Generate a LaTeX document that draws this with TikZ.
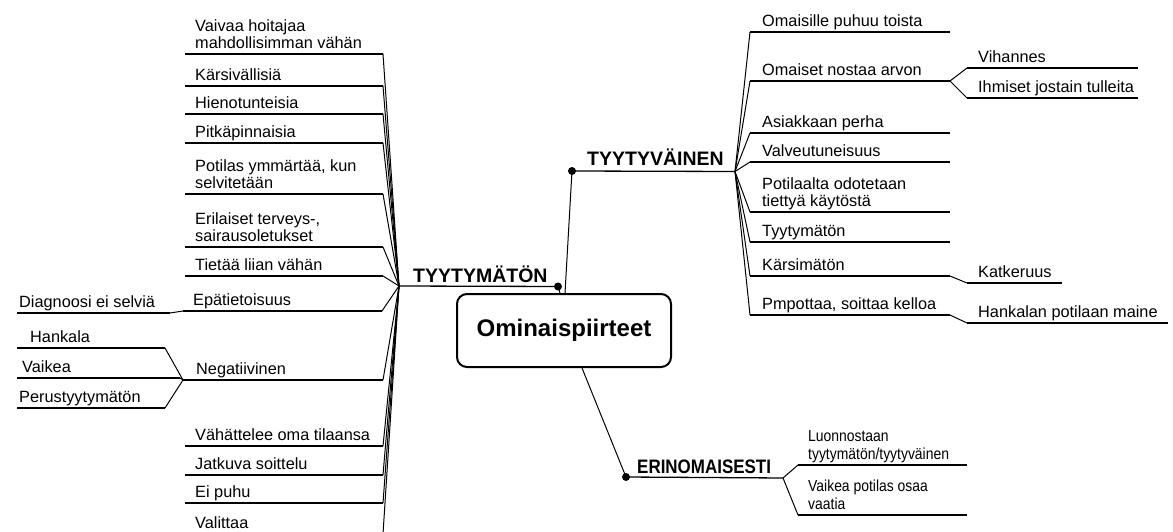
\documentclass[tikz,border=0pt]{standalone}
\usepackage{fontspec}
\setmainfont{Liberation Sans}
\newfontfamily\narrowsans[FakeStretch=0.87]{Liberation Sans}
% topic: underline from x-left to x-right at height y, text sitting on it
% #1 style, #2 name, #3 x-left, #4 x-right, #5 y, #6 text offset, #7 text
\newcommand\topic[7][txt]{%
  \coordinate (#2-l) at (#3,#5);
  \coordinate (#2-r) at (#4,#5);
  \draw[ul] (#2-l) -- (#2-r);
  \node[#1] (#2) at ({#3+#6},{#5-5}) {#7};
}
\begin{document}
\begin{tikzpicture}[x=1pt,y=-1pt,
  ul/.style={line width=1.3pt},
  link/.style={line width=1pt},
  txt/.style={anchor=south west, inner sep=0pt, text depth=0pt, align=left,
    font=\fontsize{16.3}{17.5}\selectfont},
  smalltxt/.style={txt, font=\narrowsans\fontsize{16}{18.5}\selectfont},
  head/.style={anchor=base west, inner sep=0pt, font=\fontsize{19.5}{20}\selectfont\bfseries},
  dot/.style={circle, fill, inner sep=0pt, minimum size=8pt},
  core/.style={draw, fill=white, line width=2pt, rounded corners=10pt,
    minimum width=214pt, minimum height=73pt,
    font=\fontsize{24}{26}\selectfont\bfseries}
]
\useasboundingbox (0,0) rectangle (1173,532);

% central topic
\node[core] (core) at (564,330.5) {Ominaispiirteet};

% main branches
\coordinate (hubL) at (399,286);
\coordinate (hubR) at (735,171.5);
\coordinate (hubE) at (783,478);
\node[dot] (dL) at (558,286.5) {};
\node[dot] (dR) at (572,171) {};
\node[dot] (dE) at (626,477) {};
\draw[ul] (hubL) -- (dL.center);
\draw[ul] (dR.center) -- (hubR);
\draw[ul] (dE.center) -- (hubE);
\node[head] (hL) at (413,282) {TYYTYMÄTÖN};
\node[head] (hR) at (587,165) {TYYTYVÄINEN};
\node[head, font=\narrowsans\fontsize{19.5}{20}\selectfont\bfseries] (hE) at (637,473) {ERINOMAISESTI};
\draw[link] (dL.center) -- ([xshift=-4pt]core.north);
\draw[link] (dR.center) -- ([xshift=1pt]core.north);
\draw[link] ([xshift=18pt]core.south) -- (dE.center);

% TYYTYMÄTÖN
\topic{L1}{185}{383}{54}{10}{Vaivaa hoitajaa\\mahdollisimman vähän}
\topic{L2}{185}{383}{86}{10}{Kärsivällisiä}
\topic{L3}{185}{383}{114}{10}{Hienotunteisia}
\topic{L4}{185}{383}{143}{10}{Pitkäpinnaisia}
\topic{L5}{185}{383}{194}{10}{Potilas ymmärtää, kun\\selvitetään}
\topic{L6}{185}{383}{247}{10}{Erilaiset terveys-,\\sairausoletukset}
\topic{L7}{185}{383}{276}{10}{Tietää liian vähän}
\topic{L8}{183}{382}{311}{10}{Epätietoisuus}
\topic{L9}{183}{383}{380}{13}{Negatiivinen}
\topic{L10}{185}{383}{446}{10}{Vähättelee oma tilaansa}
\topic{L11}{185}{383}{475}{10}{Jatkuva soittelu}
\topic{L12}{185}{383}{503}{10}{Ei puhu}
\topic{L13}{185}{383}{534}{10}{Valittaa}
\foreach \t in {L1,L2,L3,L4,L5,L6,L7,L8,L9,L10,L11,L12,L13}
  \draw[link] (\t-r) -- (hubL);

\topic{D1}{17}{170}{313}{2}{Diagnoosi ei selviä}
\draw[link] (D1-r) -- (L8-l);
\topic{N1}{17}{165}{348}{13}{Hankala}
\topic{N2}{17}{180}{378}{5}{Vaikea}
\topic{N3}{17}{165}{408}{2}{Perustyytymätön}
\foreach \t in {N1,N2,N3}
  \draw[link] (\t-r) -- (L9-l);

% TYYTYVÄINEN
\topic{R1}{750}{950}{32}{12}{Omaisille puhuu toista}
\topic{R2}{750}{950}{81}{12}{Omaiset nostaa arvon}
\topic{R3}{750}{950}{133}{12}{Asiakkaan perha}
\topic{R4}{750}{950}{162}{12}{Valveutuneisuus}
\topic{R5}{750}{950}{212}{12}{Potilaalta odotetaan\\tiettyä käytöstä}
\topic{R6}{750}{950}{242}{12}{Tyytymätön}
\topic{R7}{750}{950}{276}{12}{Kärsimätön}
\topic{R8}{750}{950}{315}{12}{Pmpottaa, soittaa kelloa}
\foreach \t in {R1,R2,R3,R4,R5,R6,R7,R8}
  \draw[link] (hubR) -- (\t-l);

\topic{S1}{967}{1138}{68}{11}{Vihannes}
\topic{S2}{967}{1138}{98}{11}{Ihmiset jostain tulleita}
\draw[link] (R2-r) -- (S1-l);
\draw[link] (R2-r) -- (S2-l);
\topic{S3}{967}{1062}{283}{11}{Katkeruus}
\draw[link] (R7-r) -- (S3-l);
\topic{S4}{967}{1168}{323}{11}{Hankalan potilaan maine}
\draw[link] (R8-r) -- (S4-l);

% ERINOMAISESTI
\topic[smalltxt]{E1}{798}{967}{465}{10}{Luonnostaan\\tyytymätön/tyytyväinen}
\topic[smalltxt]{E2}{798}{967}{515}{10}{Vaikea potilas osaa\\vaatia}
\draw[link] (hubE) -- (E1-l);
\draw[link] (hubE) -- (E2-l);
\end{tikzpicture}
\end{document}
